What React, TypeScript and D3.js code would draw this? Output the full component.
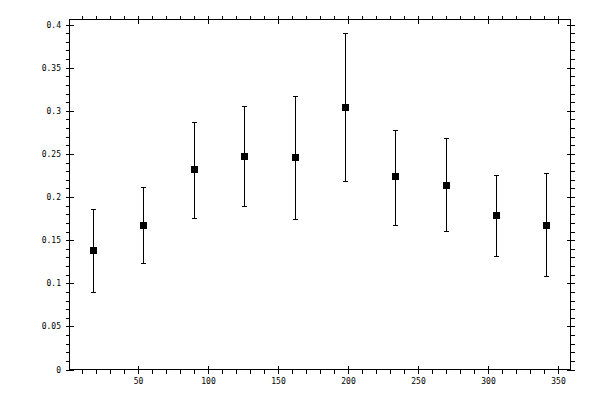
import { useEffect, useRef } from 'react';
import * as d3 from 'd3';

// bin centres (degrees) and measured values with error bar limits
const binCentres = [18, 54, 90, 126, 162, 198, 234, 270, 306, 342];
const means = [0.138, 0.168, 0.232, 0.247, 0.246, 0.304, 0.224, 0.214, 0.179, 0.168];
const upper = [0.186, 0.212, 0.287, 0.306, 0.317, 0.390, 0.278, 0.268, 0.225, 0.228];
const lower = [0.090, 0.124, 0.176, 0.189, 0.175, 0.218, 0.168, 0.161, 0.132, 0.108];

const xMajorTicks = [50, 100, 150, 200, 250, 300, 350];
const yMajorTicks = [0, 0.05, 0.1, 0.15, 0.2, 0.25, 0.3, 0.35, 0.4];

export default function App() {
  const svgRef = useRef<SVGSVGElement>(null);

  useEffect(() => {
    if (!svgRef.current) return;
    const svg = d3.select(svgRef.current);
    svg.selectAll('*').remove();

    const width = 600;
    const height = 400;
    const left = 69.5;
    const right = 570.5;
    const top = 19.5;
    const bottom = 369.5;

    const x = d3.scaleLinear().domain([1.2, 359.2]).range([left, right]);
    const y = d3.scaleLinear().domain([0, 0.4058]).range([bottom, top]);

    svg.attr('width', width).attr('height', height).attr('viewBox', `0 0 ${width} ${height}`);

    const g = svg.append('g')
      .attr('stroke', '#000')
      .attr('stroke-width', 1)
      .attr('shape-rendering', 'crispEdges');

    // frame
    g.append('rect')
      .attr('x', left).attr('y', top)
      .attr('width', right - left).attr('height', bottom - top)
      .attr('fill', 'none');

    const xMinor = d3.range(10, 360, 10).filter((v) => v % 50 !== 0);
    const yMinor = d3.range(1, 41).map((i) => i / 100).filter((_, i) => (i + 1) % 5 !== 0);

    // minor ticks point outward, major ticks cross the frame
    xMinor.forEach((v) => {
      const px = Math.round(x(v)) + 0.5;
      g.append('line').attr('x1', px).attr('x2', px).attr('y1', bottom).attr('y2', bottom + 4);
      g.append('line').attr('x1', px).attr('x2', px).attr('y1', top).attr('y2', top - 4);
    });
    xMajorTicks.forEach((v) => {
      const px = Math.round(x(v)) + 0.5;
      g.append('line').attr('x1', px).attr('x2', px).attr('y1', bottom - 4).attr('y2', bottom + 4);
      g.append('line').attr('x1', px).attr('x2', px).attr('y1', top - 4).attr('y2', top + 4);
    });
    yMinor.forEach((v) => {
      const py = Math.round(y(v)) + 0.5;
      g.append('line').attr('x1', left - 4).attr('x2', left).attr('y1', py).attr('y2', py);
      g.append('line').attr('x1', right).attr('x2', right + 4).attr('y1', py).attr('y2', py);
    });
    yMajorTicks.forEach((v) => {
      const py = Math.round(y(v)) + 0.5;
      g.append('line').attr('x1', left - 4).attr('x2', left + 4).attr('y1', py).attr('y2', py);
      g.append('line').attr('x1', right - 4).attr('x2', right + 4).attr('y1', py).attr('y2', py);
    });

    const labels = svg.append('g')
      .attr('font-family', '"DejaVu Sans Mono", monospace')
      .attr('font-size', 8)
      .attr('fill', '#000');

    labels.selectAll('text.x')
      .data(xMajorTicks)
      .join('text')
      .attr('class', 'x')
      .attr('x', (d) => Math.round(x(d)) + 0.5)
      .attr('y', 384)
      .attr('text-anchor', 'middle')
      .text((d) => String(d));

    labels.selectAll('text.y')
      .data(yMajorTicks)
      .join('text')
      .attr('class', 'y')
      .attr('x', 61)
      .attr('y', (d) => Math.round(y(d)) + 3)
      .attr('text-anchor', 'end')
      .text((d) => String(+d.toFixed(2)));

    // error bars
    const bars = g.append('g');
    binCentres.forEach((c, i) => {
      const px = Math.round(x(c)) + 0.5;
      const yHi = Math.round(y(upper[i])) + 0.5;
      const yLo = Math.round(y(lower[i])) + 0.5;
      bars.append('line').attr('x1', px).attr('x2', px).attr('y1', yHi).attr('y2', yLo);
      bars.append('line').attr('x1', px - 2.5).attr('x2', px + 2.5).attr('y1', yHi).attr('y2', yHi);
      bars.append('line').attr('x1', px - 2.5).attr('x2', px + 2.5).attr('y1', yLo).attr('y2', yLo);
    });

    svg.append('g')
      .selectAll('rect')
      .data(binCentres)
      .join('rect')
      .attr('x', (d) => Math.round(x(d)) - 3)
      .attr('y', (_, i) => Math.round(y(means[i])) - 3)
      .attr('width', 7)
      .attr('height', 7)
      .attr('fill', '#000')
      .attr('shape-rendering', 'crispEdges');
  }, []);

  return (
    <svg
      ref={svgRef}
      style={{ position: 'absolute', left: 0, top: 0, background: '#fff' }}
    />
  );
}
